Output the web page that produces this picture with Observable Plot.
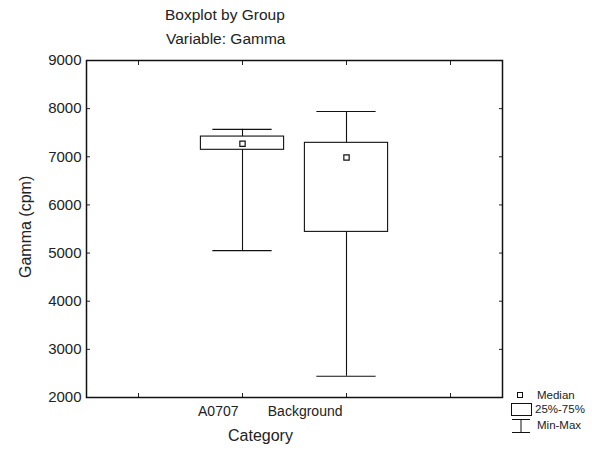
<!DOCTYPE html>
<html><head><meta charset="utf-8">
<script src="https://cdn.jsdelivr.net/npm/d3@7"></script>
<script src="https://cdn.jsdelivr.net/npm/@observablehq/plot@0.6"></script>
<style>
body{margin:0;background:#fff;font-family:"Liberation Sans",Arial,sans-serif;color:#222;}
#wrap{position:relative;width:592px;height:456px;overflow:hidden;}
.t{position:absolute;white-space:nowrap;}
</style></head>
<body><div id="wrap"></div>
<script>
const categories = ["A0707", "Background"];
const minValues = [5050, 2440];
const q1Values = [7145, 5440];
const medianValues = [7270, 6985];
const q3Values = [7420, 7290];
const maxValues = [7570, 7940];
const yTicks = [2000, 3000, 4000, 5000, 6000, 7000, 8000, 9000];

const data = categories.map((c, i) => ({
  cat: c, pos: i + 2,
  min: minValues[i], q1: q1Values[i], med: medianValues[i], q3: q3Values[i], max: maxValues[i]
}));

const boxHalf = 0.4, capHalf = 0.285;

const chart = Plot.plot({
  width: 592, height: 456,
  marginLeft: 86, marginRight: 90, marginTop: 60, marginBottom: 59,
  style: {fontFamily: "Liberation Sans, Arial, sans-serif", fontSize: "15px", color: "#222", background: "transparent"},
  x: {domain: [0.5, 4.5]},
  y: {domain: [2000, 9000]},
  marks: [
    Plot.axisY({anchor: "left", ticks: yTicks, tickSize: -4, tickPadding: 9, tickFormat: d3.format("d"), label: null, fontSize: 15}),
    Plot.axisY({anchor: "right", ticks: yTicks, tickSize: -4, tickFormat: () => "", label: null}),
    Plot.axisX({anchor: "bottom", ticks: [1, 2, 3, 4], tickSize: -4, tickFormat: () => "", label: null}),
    Plot.axisX({anchor: "top", ticks: [1, 2, 3, 4], tickSize: -4, tickFormat: () => "", label: null}),
    Plot.text(data, {x: "pos", text: "cat", frameAnchor: "bottom", dy: 18, textAnchor: "end", dx: -4, fontSize: 14, fill: "#222"}),
    Plot.ruleX(data, {x: "pos", y1: "min", y2: "max", stroke: "#111", strokeWidth: 1.1}),
    Plot.ruleY(data, {y: "min", x1: d => d.pos - capHalf, x2: d => d.pos + capHalf, stroke: "#111", strokeWidth: 1.1}),
    Plot.ruleY(data, {y: "max", x1: d => d.pos - capHalf, x2: d => d.pos + capHalf, stroke: "#111", strokeWidth: 1.1}),
    Plot.rect(data, {x1: d => d.pos - boxHalf, x2: d => d.pos + boxHalf, y1: "q1", y2: "q3", fill: "white", stroke: "#111", strokeWidth: 1.1}),
    Plot.dot(data, {x: "pos", y: "med", symbol: "square", r: 3, fill: "white", stroke: "#111", strokeWidth: 1.2}),
    Plot.frame({stroke: "#111", strokeWidth: 1.5})
  ]
});

const wrap = document.getElementById("wrap");
wrap.appendChild(chart);
chart.style.position = "absolute"; chart.style.left = "0"; chart.style.top = "0";

function addText(txt, css) {
  const d = document.createElement("div");
  d.className = "t"; d.textContent = txt;
  Object.assign(d.style, css);
  wrap.appendChild(d);
  return d;
}
addText("Boxplot by Group", {left: "165px", top: "6px", fontSize: "15.5px"});
addText("Variable: Gamma", {left: "166px", top: "30px", fontSize: "15.5px"});
addText("Category", {left: "228px", top: "427px", fontSize: "16px"});
addText("Gamma (cpm)", {left: "-24px", top: "219px", fontSize: "16px", transform: "rotate(-90deg)", width: "100px", textAlign: "center"});

// legend
const leg = document.createElement("div");
leg.className = "t";
Object.assign(leg.style, {left: "500px", top: "385px"});
leg.innerHTML = `<svg width="92" height="52" style="font-family:'Liberation Sans',Arial,sans-serif;font-size:11.5px;fill:#222">
<rect x="17.5" y="7.5" width="5" height="5" fill="white" stroke="#111" stroke-width="1"/>
<text x="37" y="14">Median</text>
<rect x="11.5" y="18.5" width="20" height="12" fill="white" stroke="#111" stroke-width="1"/>
<text x="35" y="28">25%-75%</text>
<line x1="12" y1="34.5" x2="30" y2="34.5" stroke="#111"/>
<line x1="21" y1="34.5" x2="21" y2="47.5" stroke="#111"/>
<line x1="12" y1="47.5" x2="30" y2="47.5" stroke="#111"/>
<text x="37" y="44">Min-Max</text>
</svg>`;
wrap.appendChild(leg);
</script></body></html>
